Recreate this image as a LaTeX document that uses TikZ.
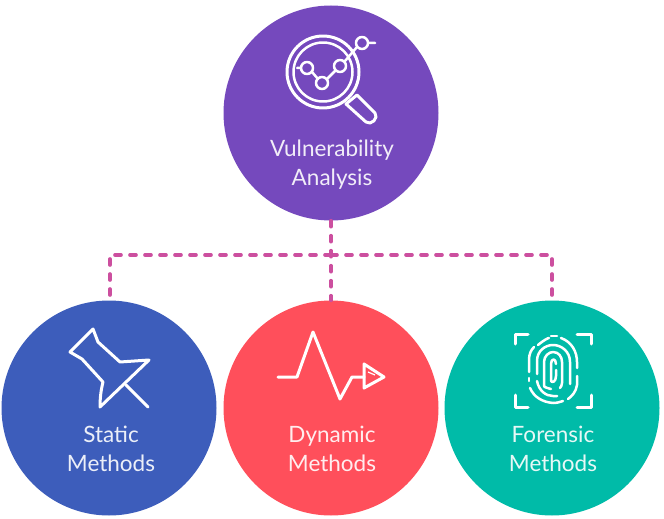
\documentclass[tikz,border=0pt]{standalone}
\usepackage{fontspec}
\setmainfont{Lato}
\usepackage{xcolor}
\usetikzlibrary{positioning}
\definecolor{topcol}{HTML}{7549BD}
\definecolor{leftcol}{HTML}{3D5DBB}
\definecolor{midcol}{HTML}{FF4F5B}
\definecolor{rightcol}{HTML}{00BBA8}
\definecolor{linkcol}{HTML}{CC4F9F}
\tikzset{
  disc/.style={circle, minimum size=215pt, inner sep=0pt},
  caption/.style={text=white, font=\fontsize{22.5}{29}\selectfont, align=center, opacity=0.9},
  link/.style={linkcol, line width=3.6pt, line cap=round, dash pattern=on 6pt off 9pt},
  icon/.style={white, line width=3pt, line join=round, line cap=round},
  thin icon/.style={white, line width=2.5pt, line join=round, line cap=round}
}
\begin{document}
\begin{tikzpicture}[x=1pt,y=-1pt]
\useasboundingbox (0,0) rectangle (664,519);
\node[disc, fill=topcol] (top) at (331,113) {};
\node[disc, fill=leftcol] (static) at (109,408) {};
\node[disc, fill=midcol] (dynamic) at (331,408) {};
\node[disc, fill=rightcol] (forensic) at (552,408) {};
\node[caption] (toplabel) at (332,165) {Vulnerability\\Analysis};
\node[caption] (staticlabel) at (111,449) {Static\\Methods};
\node[caption] (dynamiclabel) at (332,449) {Dynamic\\Methods};
\node[caption] (forensiclabel) at (553,449) {Forensic\\Methods};
% connectors
\coordinate (hub) at (331,255);
\coordinate (hubleft) at (110,255);
\coordinate (hubright) at (552,255);
\draw[link] (hub) -- (hubleft) -- (hubleft |- static.north);
\draw[link] (hub) -- (hubright) -- (hubright |- forensic.north);
\draw[link] (top.south) -- (dynamic.north);
% magnifier
\draw[icon] (323,72) circle (36);
\draw[thin icon] (323,72) circle (29.5);
\draw[thin icon] (297,68) -- (301,68) (312,72) -- (318,79) (327,79) -- (335,71) (345,61) -- (357,47) (368,43) -- (375,43);
\foreach \px/\py in {307/68, 322/83, 340/66, 362/43}
  \draw[thin icon] (\px,\py) circle (6);
\draw[icon] (346,104) -- (357,95) -- (375,113) .. controls (379,118) and (371,126) .. (366,122) -- cycle;
% pin
\draw[icon] (93,329) -- (98,342) -- (120,362) -- (149,360) -- (100,407) .. controls (100,398) and (101,390) .. (103,382) -- (82,359) -- (70,352) -- cycle;
\draw[icon] (126,385) -- (148,407);
% pulse
\draw[icon] (278,377) -- (297,377) -- (313,332) -- (340,399) -- (352,377) -- (364,377);
\draw[icon] (364,364) -- (384,377) -- (364,388) -- cycle;
\draw[white, line width=1.2pt] (368,372) -- (375,375);
% fingerprint
\foreach \fx/\fy/\tx/\ty/\ux/\uy in {515/344/515/334/528/334, 577/334/591/334/591/344, 515/395/515/407/528/407, 577/407/591/407/591/395}
  \draw[icon] (\fx,\fy) -- (\tx,\ty) -- (\ux,\uy);
\draw[thin icon] (538,345) .. controls (544,340) and (548,338) .. (549,338);
\draw[thin icon] (551,336) -- (557,336);
\draw[thin icon] (561,338) .. controls (572,342) and (577,352) .. (577,362) -- (577,368);
\draw[thin icon] (529,372) -- (529,360) .. controls (529,354) and (531,350) .. (534,347);
\draw[thin icon] (529,378) -- (529,381);
\draw[thin icon] (577,376) -- (577,385) .. controls (576,392) and (572,396) .. (568,399);
\draw[thin icon] (530,388) .. controls (534,397) and (542,402) .. (553,403) .. controls (557,403) and (560,402) .. (563,401);
\draw[thin icon] (537,374) -- (537,361) .. controls (537,351) and (545,345) .. (553,345) .. controls (562,345) and (570,352) .. (570,362) -- (570,384);
\draw[thin icon] (537,381) .. controls (539,391) and (546,396) .. (553,396) -- (557,396);
\draw[thin icon] (544,386) -- (544,362) .. controls (544,356) and (549,352) .. (553,352) .. controls (559,352) and (562,357) .. (562,362) -- (562,383) .. controls (562,385) and (561,387) .. (560,388);
\draw[thin icon] (551,389) .. controls (547,388) and (544,387) .. (544,386);
\draw[thin icon] (551,381) -- (551,364) .. controls (551,358) and (556,358) .. (556,364);
\draw[thin icon] (556,370) -- (556,376) .. controls (556,382) and (552,383) .. (551,381);
\end{tikzpicture}
\end{document}
